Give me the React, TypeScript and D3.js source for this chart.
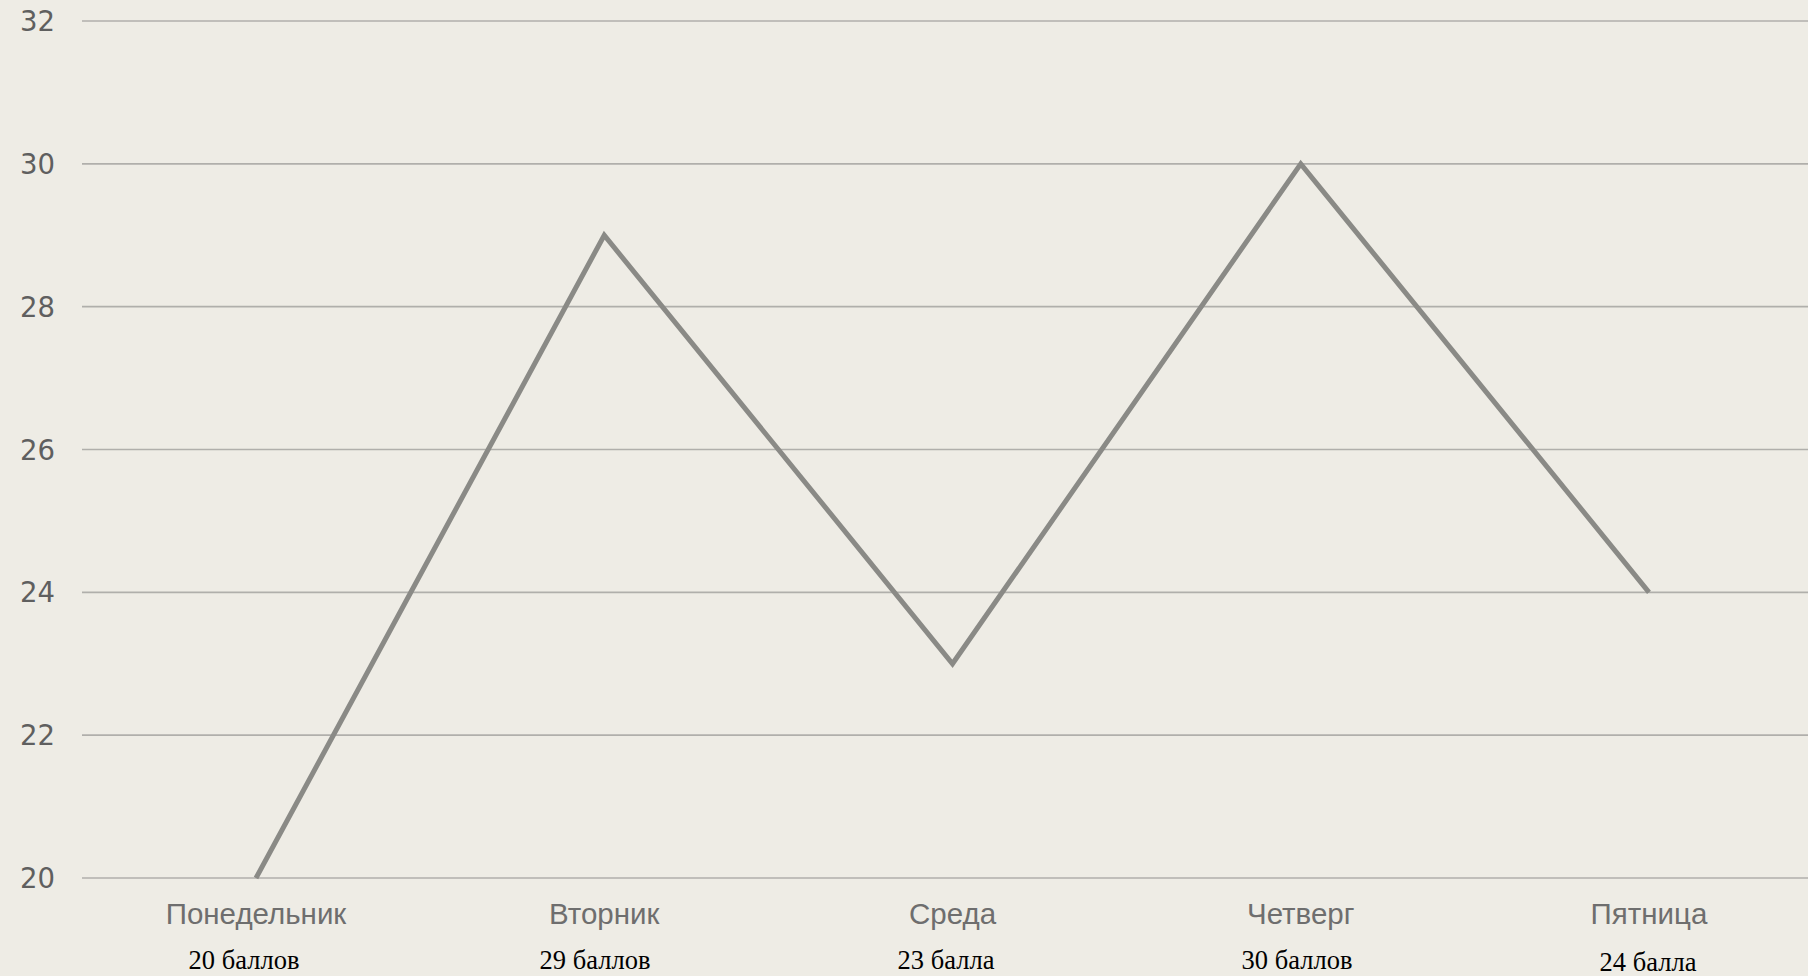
import React from "react";
import * as d3 from "d3";

const days = ["Понедельник", "Вторник", "Среда", "Четверг", "Пятница"];
const scores = [20, 29, 23, 30, 24];
const scoreLabels = ["20 баллов", "29 баллов", "23 балла", "30 баллов", "24 балла"];
const yTicks = [20, 22, 24, 26, 28, 30, 32];

const W = 1808;
const H = 976;

export default function App() {
  const x = d3.scalePoint<string>().domain(days).range([256, 1649]);
  const xSub = d3.scalePoint<string>().domain(days).range([244, 1648]);
  const y = d3.scaleLinear().domain([20, 32]).range([878, 21]);
  const line = d3
    .line<number>()
    .x((_, i) => x(days[i]) as number)
    .y((d) => y(d));

  return (
    <svg
      width={W}
      height={H}
      style={{ position: "absolute", left: 0, top: 0, background: "#eeece5" }}
    >
      <rect x={0} y={0} width={W} height={H} fill="#eeece5" />
      {yTicks.map((t) => (
        <g key={t}>
          <line x1={82} x2={W} y1={y(t)} y2={y(t)} stroke="#b0afab" strokeWidth={1.6} />
          <text
            x={55}
            y={y(t)}
            textAnchor="end"
            dominantBaseline="central"
            fontFamily="'DejaVu Sans', sans-serif"
            fontSize={27.5}
            fill="#5f5f5f"
          >
            {t}
          </text>
        </g>
      ))}
      <path
        d={line(scores) || ""}
        fill="none"
        stroke="#8a8a86"
        strokeWidth={5}
        strokeLinejoin="miter"
      />
      {days.map((d) => (
        <text
          key={d}
          x={x(d)}
          y={924}
          textAnchor="middle"
          fontFamily="'Liberation Sans', Arial, sans-serif"
          fontSize={29.5}
          fill="#6e6e6e"
        >
          {d}
        </text>
      ))}
      {days.map((d, i) => (
        <text
          key={d + "s"}
          x={xSub(d)}
          y={i === 4 ? 971 : 969}
          textAnchor="middle"
          fontFamily="'Liberation Serif', 'Times New Roman', serif"
          fontSize={26.5}
          fill="#000"
        >
          {scoreLabels[i]}
        </text>
      ))}
    </svg>
  );
}
